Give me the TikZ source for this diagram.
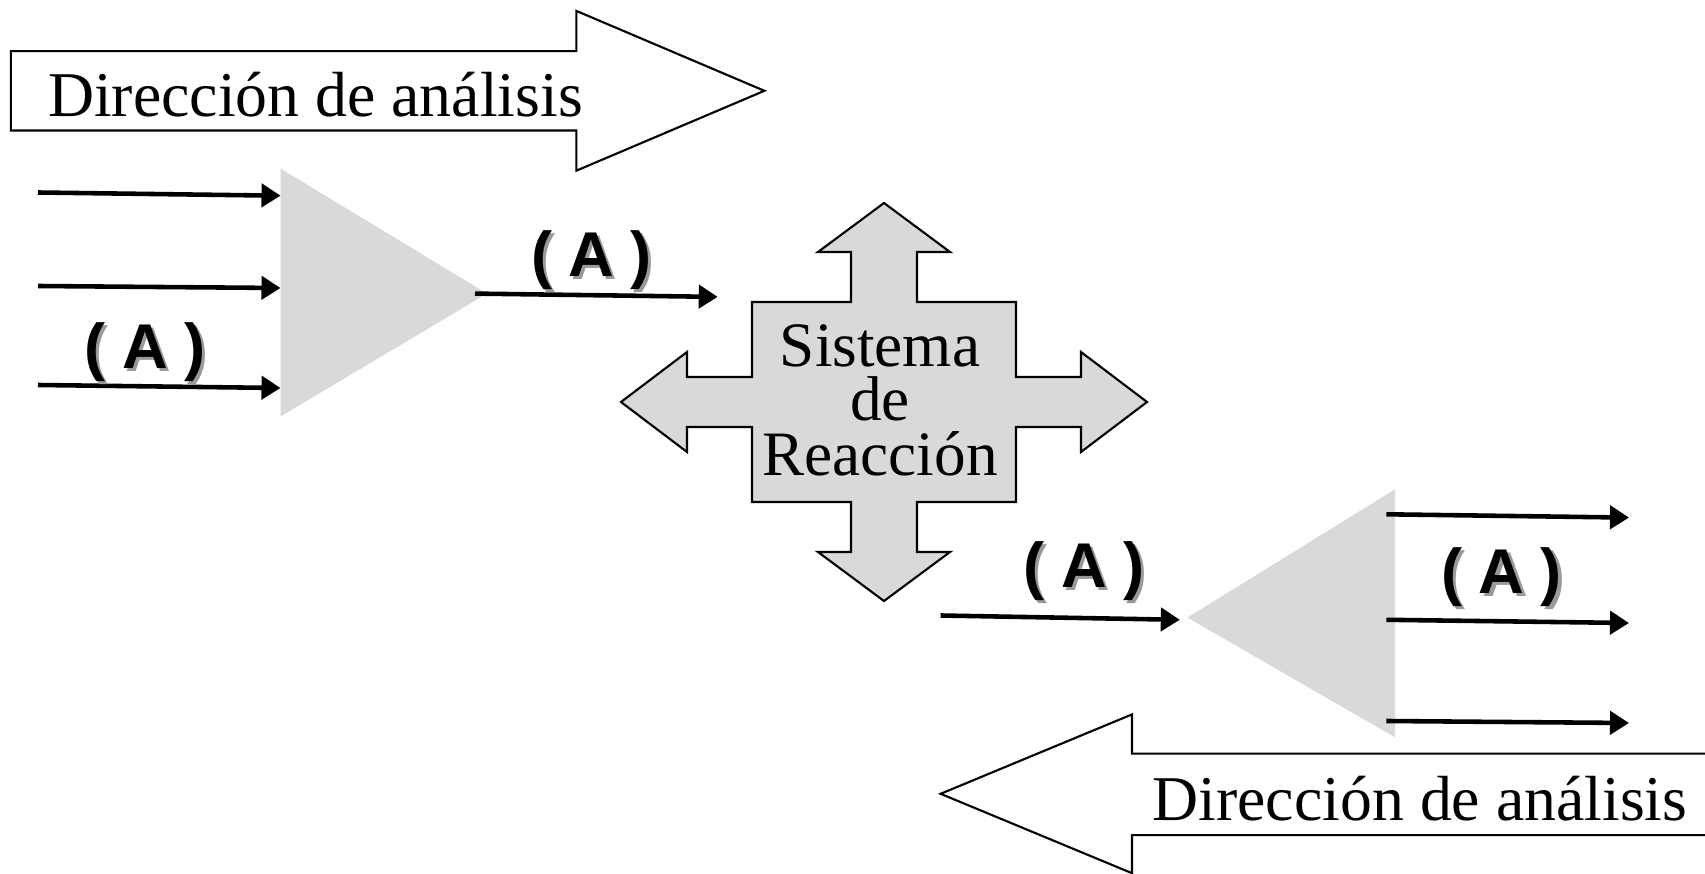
\documentclass[tikz,border=0pt]{standalone}
\usepackage{fontspec}
\setmainfont{Liberation Serif}
\newfontfamily\labelfont{Liberation Sans}
\usepackage{tikz}
\usetikzlibrary{arrows.meta,positioning}
\definecolor{trigray}{HTML}{D9D9D9}
\newcommand{\parA}{(\kern0.26em A\kern0.26em)}
\newcommand{\shadowA}{\rlap{\kern1.8pt\raisebox{-1.8pt}{\color{black!40}\parA}}\parA}

\begin{document}
\begin{tikzpicture}[x=0.02cm,y=-0.02cm,
  flow/.style={-{Triangle[length=0.38cm,width=0.46cm]},line width=2.6pt},
  bigarrow/.style={draw=black,fill=white,line width=1.2pt,line join=miter},
  crossbox/.style={draw=black,fill=trigray,line width=1.2pt},
  labA/.style={font=\labelfont\bfseries\fontsize{36}{36}\selectfont,inner sep=0pt},
  dirtext/.style={font=\fontsize{36.3}{40}\selectfont,anchor=base,inner sep=0pt}]
\useasboundingbox (0,0) rectangle (1705,874);
\clip (0,0) rectangle (1705,874);
\draw[bigarrow] (10.9,51.1) -- (576.3,51.1) -- (576.3,10.9) -- (764.4,90.8) -- (576.3,170.7) -- (576.3,130.5) -- (10.9,130.5) -- cycle;
\node[dirtext] (d1) at (315.5,116.4) {Dirección de análisis};
\draw[bigarrow] (1720,753.6) -- (1132,753.6) -- (1132,714.4) -- (940.6,793.8) -- (1132,873.2) -- (1132,835.1) -- (1720,835.1) -- cycle;
\node[dirtext] (d2) at (1420,821) {Dirección de análisis};
\fill[trigray] (280.5,168.5) -- (487,293.6) -- (280.5,416.5) -- cycle;
\fill[trigray] (1395,489.3) -- (1187.4,617.6) -- (1395,737.3) -- cycle;
\draw[crossbox,shift={(884,402)}] (-132,-100) -- (-33,-100) -- (-33,-150) -- (-66,-150) -- (0,-199) -- (66,-150) -- (33,-150) -- (33,-100) -- (132,-100) -- (132,-25) -- (197,-25) -- (197,-50) -- (263,0) -- (197,50) -- (197,25) -- (132,25) -- (132,100) -- (33,100) -- (33,150) -- (66,150) -- (0,199) -- (-66,150) -- (-33,150) -- (-33,100) -- (-132,100) -- (-132,25) -- (-197,25) -- (-197,50) -- (-263,0) -- (-197,-50) -- (-197,-25) -- (-132,-25) -- cycle;
\node[align=center,font=\fontsize{36}{31}\selectfont,inner sep=0pt] (sr) at (880,400) {Sistema\\de\\Reacción};
\coordinate (a1) at (38,192.5);
\coordinate (a2) at (38,286);
\coordinate (a3) at (38,385);
\coordinate (b1) at (280.5,195.7);
\coordinate (b2) at (280.5,288);
\coordinate (b3) at (280.5,388);
\coordinate (c1) at (475,293.6);
\coordinate (c2) at (717.7,296.9);
\coordinate (e1) at (940.6,615.5);
\coordinate (e2) at (1179.8,619.8);
\coordinate (f1) at (1386.4,514.3);
\coordinate (f2) at (1386.4,619.8);
\coordinate (f3) at (1386.4,721);
\coordinate (g1) at (1629,517.6);
\coordinate (g2) at (1629,623);
\coordinate (g3) at (1629,723);
\draw[flow] (a1) -- (b1);
\draw[flow] (a2) -- (b2);
\draw[flow] (a3) -- (b3);
\draw[flow] (c1) -- (c2);
\draw[flow] (e1) -- (e2);
\draw[flow] (f1) -- (g1);
\draw[flow] (f2) -- (g2);
\draw[flow] (f3) -- (g3);
\node[labA] (l1) at (145,354) {\shadowA};
\node[labA] (l2) at (591.5,261.5) {\shadowA};
\node[labA] (l3) at (1084,573) {\shadowA};
\node[labA] (l4) at (1501.7,578.5) {\shadowA};
\end{tikzpicture}
\end{document}
